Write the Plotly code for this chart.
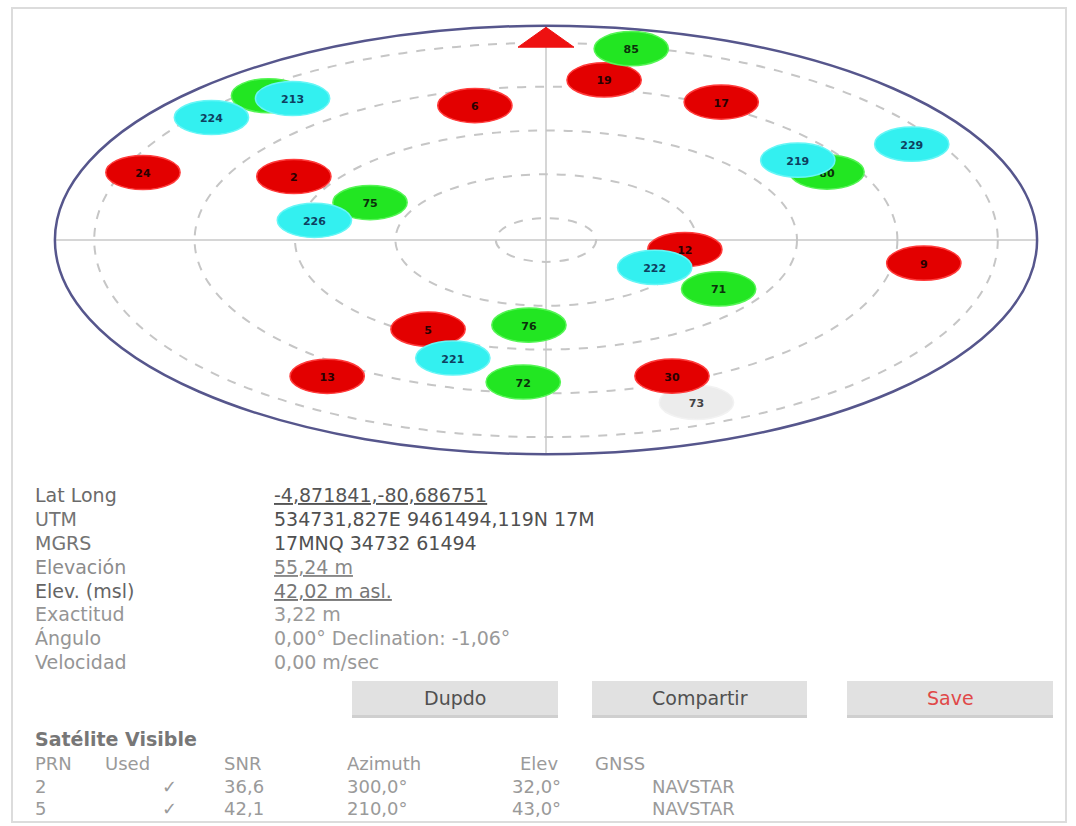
import numpy as np
import plotly.graph_objects as go

# ---------------- data ----------------
# drawing order: not used, GPS (red), GLONASS (green), Galileo (cyan)
sat_prn = ["73",
           "24", "2", "6", "19", "17", "5", "13", "30", "12", "9",
           "85", "70", "80", "75", "76", "72", "71",
           "224", "213", "226", "219", "229", "222", "221"]
sat_azimuth = [158,
               291, 300, 347, 9, 29, 210, 215, 158, 99, 98,
               11, 320, 61, 296, 185, 184, 123,
               310, 322, 281, 54, 59, 120, 199]
sat_elevation = [10,
                 4, 32, 27, 16, 18, 43, 14, 23, 62, 14,
                 1, 4, 26, 51, 51, 25, 49,
                 3, 8, 43, 28, 5, 65, 33]
sat_system = (["none"] + ["GPS"] * 10 + ["GLONASS"] * 7 + ["Galileo"] * 7)

ring_elevations = [80, 60, 40, 20, 0]

info_labels = ["Lat Long", "UTM", "MGRS", "Elevación", "Elev. (msl)",
               "Exactitud", "Ángulo", "Velocidad"]
info_values = ["-4,871841,-80,686751", "534731,827E 9461494,119N 17M",
               "17MNQ 34732 61494", "55,24 m", "42,02 m asl.", "3,22 m",
               "0,00° Declination: -1,06°", "0,00 m/sec"]
info_underlined = [True, False, False, True, True, False, False, False]

button_texts = ["Dupdo", "Compartir", "Save"]

table_title = "Satélite Visible"
table_header = ["PRN", "Used", "SNR", "Azimuth", "Elev", "GNSS"]
table_rows = [["2", "✓", "36,6", "300,0°", "32,0°", "NAVSTAR"],
              ["5", "✓", "42,1", "210,0°", "43,0°", "NAVSTAR"]]

# ---------------- styles ----------------
fill_col = {"GPS": "#e30000", "GLONASS": "#22e622", "Galileo": "#33f0f0", "none": "#ececec"}
edge_col = {"GPS": "#ff3b3b", "GLONASS": "#55f555", "Galileo": "#66f6f6", "none": "#f2f2f2"}
text_col = {"GPS": "#2a0000", "GLONASS": "#0b300b", "Galileo": "#0e4060", "none": "#444444"}

R = 90 / 0.92          # outer solid ellipse radius (zenith-degree units)
L, W, T, H = 44, 1004, 21, 438
FIG_W, FIG_H = 1076, 826


def px2x(px):
    return (px - L) / W


def py2y(py):
    return (T + H - py) / H


zen = 90 - np.array(sat_elevation, dtype=float)
az = np.radians(np.array(sat_azimuth, dtype=float))
sx = zen * np.sin(az)
sy = zen * np.cos(az)

shapes = []
# crosshair
shapes.append(dict(type="line", xref="x", yref="y", x0=-R, x1=R, y0=0, y1=0,
                   line=dict(color="#c9c9c9", width=1.5), layer="below"))
shapes.append(dict(type="line", xref="x", yref="y", x0=0, x1=0, y0=-R, y1=R,
                   line=dict(color="#c9c9c9", width=1.5), layer="below"))
# dashed rings
for e in ring_elevations:
    r = 90 - e
    shapes.append(dict(type="circle", xref="x", yref="y", x0=-r, x1=r, y0=-r, y1=r,
                       line=dict(color="#c6c6c6", width=2, dash="dash"), layer="below"))
# outer solid ellipse
shapes.append(dict(type="circle", xref="x", yref="y", x0=-R, x1=R, y0=-R, y1=R,
                   line=dict(color="#56568c", width=2.5), layer="below"))
# north marker
shapes.append(dict(type="path", xref="x", yref="y",
                   path=f"M {-0.057*R} {0.90*R} L {0.057*R} {0.90*R} L 0 {0.993*R} Z",
                   fillcolor="#ee1111", line=dict(color="#ee1111", width=1)))

# satellites as ellipses with labels
rx, ry = 7.4, 7.8
for i in range(len(sat_prn)):
    s = sat_system[i]
    shapes.append(dict(type="circle", xref="x", yref="y",
                       x0=sx[i] - rx, x1=sx[i] + rx, y0=sy[i] - ry, y1=sy[i] + ry,
                       fillcolor=fill_col[s], line=dict(color=edge_col[s], width=1.5),
                       label=dict(text=sat_prn[i], textposition="middle center",
                                  font=dict(family="DejaVu Sans", size=11,
                                            color=text_col[s], weight="bold"))))

# outer frame of the screen
shapes.append(dict(type="rect", xref="paper", yref="paper",
                   x0=px2x(12), x1=px2x(1066), y0=py2y(822), y1=py2y(8),
                   line=dict(color="#dcdcdc", width=2), layer="below"))

# buttons
btn_x = [(352, 558), (592, 807), (847, 1053)]
for (a, b) in btn_x:
    shapes.append(dict(type="rect", xref="paper", yref="paper",
                       x0=px2x(a), x1=px2x(b), y0=py2y(718), y1=py2y(683),
                       fillcolor="#cfcfcf", line=dict(width=0)))
    shapes.append(dict(type="rect", xref="paper", yref="paper",
                       x0=px2x(a), x1=px2x(b), y0=py2y(715), y1=py2y(681),
                       fillcolor="#e1e1e1", line=dict(width=0)))

annotations = []
rows_y = [495, 519, 543, 567, 591, 614, 638, 662]
label_cols = ["#6a6a6a", "#747474", "#747474", "#8c8c8c", "#656565", "#959595", "#959595", "#959595"]
value_cols = ["#555555", "#505050", "#505050", "#888888", "#767676", "#999999", "#999999", "#999999"]
for i in range(len(info_labels)):
    annotations.append(dict(xref="paper", yref="paper", x=px2x(33), y=py2y(rows_y[i]),
                            text=info_labels[i], showarrow=False, xanchor="left", yanchor="middle",
                            font=dict(family="DejaVu Sans", size=19, color=label_cols[i])))
    v = info_values[i]
    if info_underlined[i]:
        v = f"<span style='text-decoration:underline'>{v}</span>"
    annotations.append(dict(xref="paper", yref="paper", x=px2x(272), y=py2y(rows_y[i]),
                            text=v, showarrow=False, xanchor="left", yanchor="middle",
                            font=dict(family="DejaVu Sans", size=19, color=value_cols[i])))

btn_cols = ["#505050", "#505050", "#e04848"]
for i, (a, b) in enumerate(btn_x):
    annotations.append(dict(xref="paper", yref="paper", x=px2x((a + b) / 2), y=py2y(698),
                            text=button_texts[i], showarrow=False, xanchor="center", yanchor="middle",
                            font=dict(family="DejaVu Sans", size=19, color=btn_cols[i])))

annotations.append(dict(xref="paper", yref="paper", x=px2x(33), y=py2y(739),
                        text=table_title, showarrow=False, xanchor="left", yanchor="middle",
                        font=dict(family="DejaVu Sans", size=19, color="#777777", weight="bold")))
hdr_x = [33, 103, 222, 345, 518, 593]
for j, h in enumerate(table_header):
    annotations.append(dict(xref="paper", yref="paper", x=px2x(hdr_x[j]), y=py2y(763),
                            text=h, showarrow=False, xanchor="left", yanchor="middle",
                            font=dict(family="DejaVu Sans", size=18, color="#9a9a9a")))
row_x = [33, 160, 222, 345, 510, 650]
row_y = [786, 808]
for r, row in enumerate(table_rows):
    for j, c in enumerate(row):
        annotations.append(dict(xref="paper", yref="paper", x=px2x(row_x[j]), y=py2y(row_y[r]),
                                text=c, showarrow=False, xanchor="left", yanchor="middle",
                                font=dict(family="DejaVu Sans", size=18, color="#9a9a9a")))

fig = go.Figure()
fig.add_trace(go.Scatter(
    x=sx, y=sy, mode="markers",
    marker=dict(size=30, opacity=0),
    text=[f"PRN {p} · az {a}° · elev {e}°" for p, a, e in zip(sat_prn, sat_azimuth, sat_elevation)],
    hoverinfo="text", showlegend=False))

fig.update_layout(
    width=FIG_W, height=FIG_H,
    margin=dict(l=L, r=FIG_W - L - W, t=T, b=FIG_H - T - H),
    paper_bgcolor="white", plot_bgcolor="white",
    xaxis=dict(range=[-100, 100], visible=False, fixedrange=True),
    yaxis=dict(range=[-100, 100], visible=False, fixedrange=True),
    shapes=shapes, annotations=annotations,
    font=dict(family="DejaVu Sans"),
    showlegend=False,
)

fig.write_html("out.html", config={"displayModeBar": False},
               post_script="document.body.style.margin='0';document.body.style.overflow='hidden';")
